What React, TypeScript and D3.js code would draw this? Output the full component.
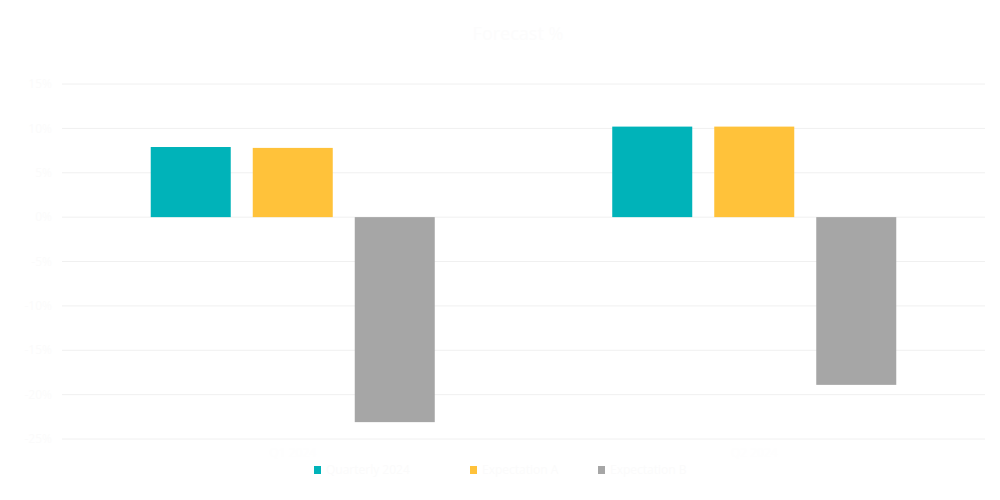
import React from "react";
import * as d3 from "d3";

const categories = ["Q1 2024", "Q2 2024"];
const seriesNames = ["Quarterly 2024", "Expectation A", "Expectation B"];
const seriesColors = ["#00b3b9", "#ffc23a", "#a6a6a6"];
const seriesA = [7.9, 10.2];
const seriesB = [7.8, 10.2];
const seriesC = [-23.1, -18.9];
const yTicks = [15, 10, 5, 0, -5, -10, -15, -20, -25];
const title = "Forecast %";

const W = 1000;
const H = 500;
const left = 62;
const right = 985;
const top = 84;
const bottom = 439;

export default function App() {
  const seriesValues = [seriesA, seriesB, seriesC];
  const x0 = d3.scaleBand<string>().domain(categories).range([left, right]).padding(0);
  const x1 = d3
    .scaleBand<string>()
    .domain(seriesNames)
    .range([0, x0.bandwidth()])
    .paddingInner(0.2157)
    .paddingOuter(0.87);
  const y = d3.scaleLinear().domain([-25, 15]).range([bottom, top]);
  const textColor = "#fbfbfb";
  const legendX = [314, 470, 598];

  return (
    <svg
      width={W}
      height={H}
      style={{ position: "absolute", left: 0, top: 0, fontFamily: "'Open Sans', sans-serif" }}
    >
      <rect x={0} y={0} width={W} height={H} fill="#ffffff" />
      <text x={518} y={40} textAnchor="middle" fontSize={18} fill="#fcfcfc">
        {title}
      </text>
      {yTicks.map((t) => (
        <g key={t}>
          <line x1={left} x2={right} y1={y(t)} y2={y(t)} stroke="#f0f0f0" strokeWidth={1} />
          <text x={52} y={y(t)} dy="0.35em" textAnchor="end" fontSize={12} fill={textColor}>
            {t}%
          </text>
        </g>
      ))}
      {categories.map((c, ci) => (
        <g key={c} transform={`translate(${x0(c)},0)`}>
          {seriesNames.map((s, si) => {
            const v = seriesValues[si][ci];
            const y0 = y(0);
            const yv = y(v);
            return (
              <rect
                key={s}
                x={x1(s)}
                y={Math.min(y0, yv)}
                width={x1.bandwidth()}
                height={Math.abs(yv - y0)}
                fill={seriesColors[si]}
              />
            );
          })}
          <text
            x={x0.bandwidth() / 2}
            y={bottom + 18}
            textAnchor="middle"
            fontSize={12}
            fill="#fefefe"
          >
            {c}
          </text>
        </g>
      ))}
      {seriesNames.map((s, si) => (
        <g key={s} transform={`translate(${legendX[si]},466)`}>
          <rect x={0} y={0} width={7} height={8} fill={seriesColors[si]} />
          <text x={12} y={4} dy="0.35em" fontSize={12} fill={textColor}>
            {s}
          </text>
        </g>
      ))}
    </svg>
  );
}
